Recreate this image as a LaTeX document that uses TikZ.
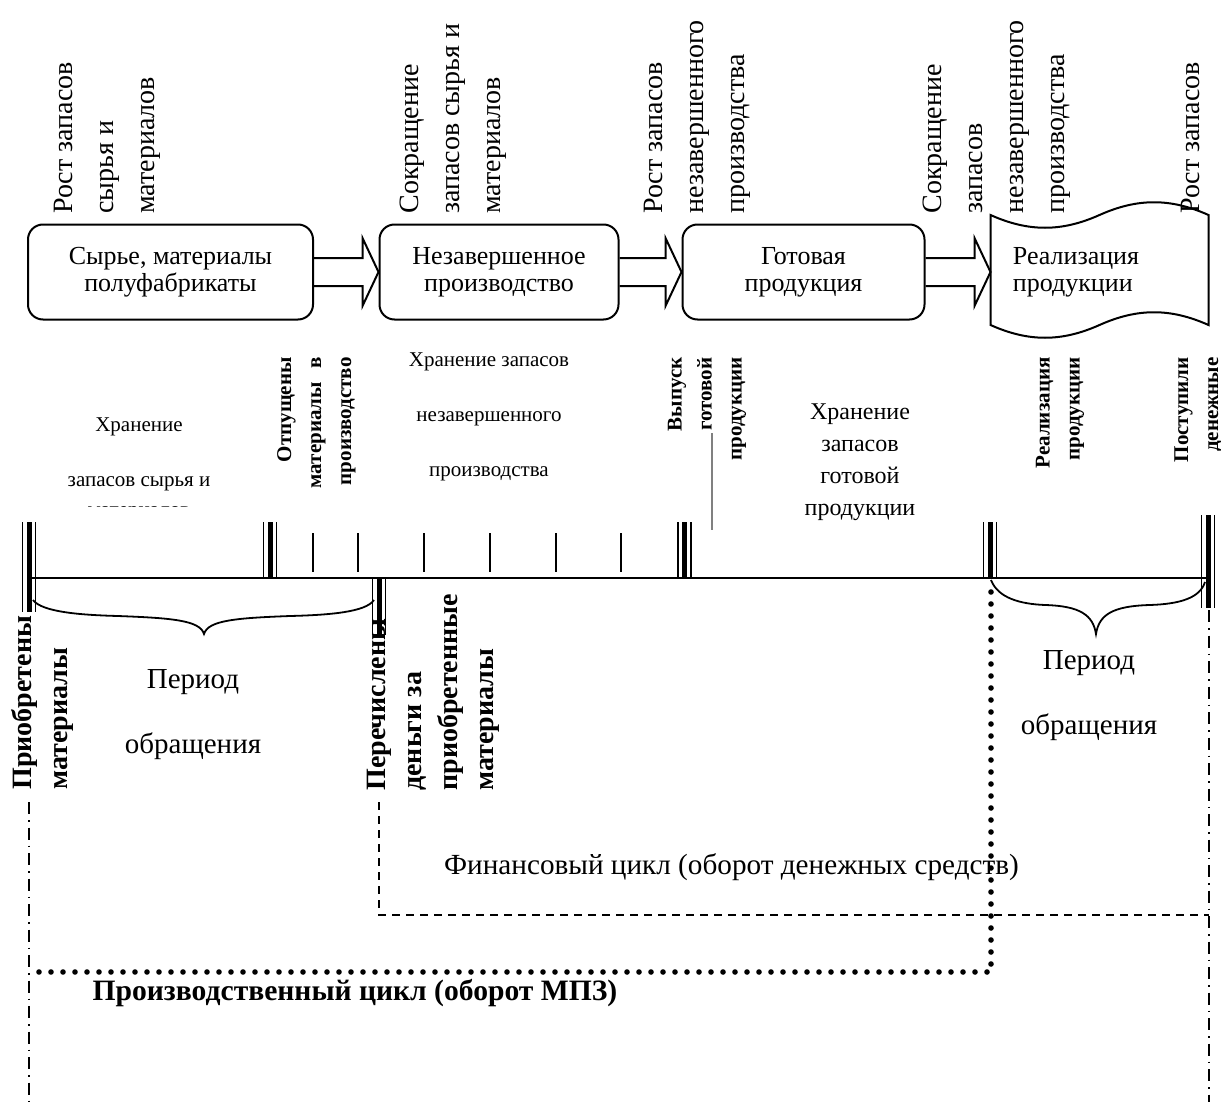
\documentclass[tikz,border=0pt]{standalone}
\usepackage{fontspec}
\setmainfont{Liberation Serif}
\usetikzlibrary{positioning}
\usetikzlibrary{calc}

% three strokes: thin, thick, thin (x, top, bottom)
\newcommand{\tribar}[3]{%
 \draw[line width=0.8pt] (#1-6.5,#2) -- (#1-6.5,#3);
 \draw[line width=2.5pt] (#1,#2) -- (#1,#3);
 \draw[line width=0.8pt] (#1+6.5,#2) -- (#1+6.5,#3);}

% hollow arrow between two stages
\newcommand{\blockarrow}[2]{%
 \draw[C] ($(#1.east)+(0,-14)$) -- ($(#2.west)+(-16,-14)$) -- ($(#2.west)+(-16,-34)$)
   -- (#2.west) -- ($(#2.west)+(-16,34)$) -- ($(#2.west)+(-16,14)$) -- ($(#1.east)+(0,14)$);}

\begin{document}
\begin{tikzpicture}[x=0.5pt,y=-0.5pt]
 \tikzstyle{stage} = [draw, line width=1pt, rounded corners=7.5pt, minimum height=47.5pt, inner sep=2pt, align=center, font=\fontsize{13}{13.5}\selectfont];
 \tikzstyle{upnote} = [rotate=90, anchor=west, align=left, inner sep=0pt, font=\fontsize{14}{20.5}\selectfont];
 \tikzstyle{eventnote} = [rotate=90, anchor=east, align=right, inner sep=0pt, font=\bfseries\fontsize{10.5}{15}\selectfont];
 \tikzstyle{paynote} = [rotate=90, anchor=west, align=left, inner sep=0pt, font=\bfseries\fontsize{14}{18}\selectfont];
 \tikzstyle{storenote} = [align=center, inner sep=0pt];
 \tikzstyle{turnnote} = [align=center, inner sep=0pt, font=\fontsize{14.5}{32.5}\selectfont];
 \tikzstyle{C} = [color=black, line width=1pt];
 \tikzstyle{fincyc} = [line width=0.75pt, dash pattern=on 4pt off 3pt];
 \tikzstyle{prodcyc} = [line width=2.8pt, line cap=round, dash pattern=on 0pt off 6pt];
 \tikzstyle{edgeline} = [line width=0.75pt, dash pattern=on 6pt off 3pt on 0.75pt off 3pt];

 \useasboundingbox (0,0) rectangle (1221,1102);

 % stages
 \node (raw) [stage, minimum width=142.5pt] at (170.5,272) {Сырье, материалы\\ полуфабрикаты};
 \node (wip) [stage, minimum width=119.5pt, right=32.25pt of raw] {Незавершенное\\ производство};
 \node (goods) [stage, minimum width=121pt, right=31pt of wip] {Готовая\\ продукция};
 \node (sales) [right=32.5pt of goods, inner xsep=11pt, inner ysep=0pt, align=left, font=\fontsize{13}{13.5}\selectfont] {Реализация\\ продукции};
 \begin{scope}[shift={(sales.west)}]
  \draw[C] (0,-57) .. controls (38,-40) and (71,-40) .. (109,-57) .. controls (147,-74) and (180,-74) .. (218,-57)
   -- (218,53) .. controls (180,36) and (147,36) .. (109,53) .. controls (71,70) and (38,70) .. (0,53) -- cycle;
 \end{scope}
 \blockarrow{raw}{wip}
 \blockarrow{wip}{goods}
 \blockarrow{goods}{sales}

 % stock changes
 \node (growraw) [upnote] at (107,214) {Рост запасов\\ сырья и\\ материалов};
 \node (cutraw) [upnote] at (453,214) {Сокращение\\ запасов сырья и\\ материалов};
 \node (growwip) [upnote] at (697,214) {Рост запасов\\ незавершенного\\ производства};
 \node (cutwip) [upnote] at (997,214) {Сокращение\\ запасов\\ незавершенного\\ производства};
 \node (growgoods) [upnote] at (1190,214) {Рост запасов};

 % storage
 \begin{scope}
  \clip (0,380) rectangle (265,506);
  \node (keepraw) [storenote, font=\fontsize{10.5}{27.5}\selectfont] at (139,469.5) {Хранение\\ запасов сырья и\\[-12.5pt] материалов};
 \end{scope}
 \node (keepwip) [storenote, font=\fontsize{10.5}{27.5}\selectfont] at (489,417) {Хранение запасов\\ незавершенного\\ производства};
 \node (keepgoods) [storenote, font=\fontsize{12}{16}\selectfont] at (860,462) {Хранение\\ запасов\\ готовой\\ продукции};

 % events
 \node (release) [eventnote] at (316.5,357) {Отпущены\\ материалы\hspace{4pt} в\\ производство};
 \node (output) [eventnote] at (707,357) {Выпуск\\ готовой\\ продукции};
 \node (sold) [eventnote] at (1060,357) {Реализация\\ продукции};
 \node (paid) [eventnote] at (1198,357) {Поступили\\ денежные};
 \node (bought) [paynote] at (42,790) {Приобретены\\ материалы};
 \node (transfer) [paynote] at (433.5,791) {Перечислены\\ деньги за\\ приобретенные\\ материалы};

 % time axis
 \coordinate (t0) at (29,578);
 \coordinate (t1) at (1208,578);
 \draw[C] (t0) -- (t1);
 \foreach \x in {313,358,424,490,556,621}
  \draw[line width=0.8pt] (\x,533) -- (\x,572);
 \draw[gray, line width=0.6pt] (712,433) -- (712,530);
 \tribar{29}{522}{612}
 \tribar{270}{522}{578}
 \tribar{379}{578}{635}
 \tribar{684.5}{522}{578}
 \tribar{990}{522}{578}
 \tribar{1208}{515}{608}

 % turnover periods
 \draw[line width=0.9pt] (33,600) .. controls (42,612) and (80,615) .. (118,616) .. controls (170,618) and (200,620) .. (204,634)
  .. controls (208,620) and (238,618) .. (290,616) .. controls (330,615) and (366,612) .. (374,600);
 \node (turnraw) [turnnote] at (193,714.5) {Период\\ обращения};
 \draw[line width=0.9pt] (991,580) .. controls (998,598) and (1020,604) .. (1045,605) .. controls (1080,606) and (1093,615) .. (1096,634)
  .. controls (1099,615) and (1112,606) .. (1150,605) .. controls (1180,604) and (1200,598) .. (1205,582);
 \node (turnsales) [turnnote] at (1089,695.5) {Период\\ обращения};

 % cycles
 \coordinate (f0) at (379,802);
 \coordinate (f1) at (379,915);
 \coordinate (f2) at (1209,915);
 \draw[fincyc] (f0) -- (f1) -- (f2);
 \node (fincycle) [font=\fontsize{14.6}{16}\selectfont] at (731.5,867) {Финансовый цикл (оборот денежных средств)};
 \coordinate (p0) at (991,592);
 \coordinate (p1) at (991,972);
 \coordinate (p2) at (29,972);
 \draw[prodcyc] (p0) -- (p1) -- (p2);
 \node (prodcycle) [font=\bfseries\fontsize{14.8}{16}\selectfont] at (355,993) {Производственный цикл (оборот МПЗ)};
 \coordinate (e0) at (29,802);
 \coordinate (e1) at (29,1102);
 \coordinate (e2) at (1209,610);
 \coordinate (e3) at (1209,1102);
 \draw[edgeline] (e0) -- (e1);
 \draw[edgeline] (e2) -- (e3);
\end{tikzpicture}
\end{document}
